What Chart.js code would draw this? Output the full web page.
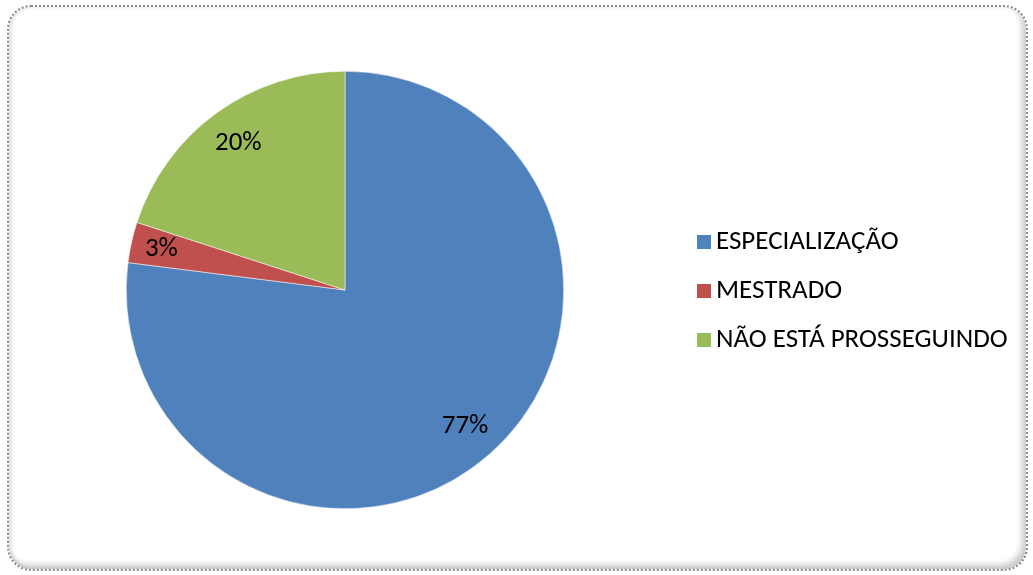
<!DOCTYPE html>
<html>
<head>
<meta charset="utf-8">
<script src="https://cdn.jsdelivr.net/npm/chart.js@4.4.1/dist/chart.umd.min.js"></script>
<style>
  html, body { margin: 0; padding: 0; background: #fff; }
  body { width: 1033px; height: 575px; position: relative; overflow: hidden; font-family: Carlito, Calibri, 'Liberation Sans', sans-serif; }
  .frame {
    position: absolute; left: 7px; top: 5px; width: 1017px; height: 562px;
    border: 2px dotted #8a8a8a; border-radius: 24px;
    box-shadow: inset -4px -4px 6px rgba(0,0,0,0.22), inset 3px 0 3px rgba(0,0,0,0.10);
  }
  #pie { position: absolute; left: 0; top: 0; }
  .legend { position: absolute; left: 697px; top: 225px; list-style: none; margin: 0; padding: 0; }
  .legend li { height: 49px; line-height: 30px; font-size: 27px; color: #000; white-space: nowrap; }
  .legend span { display: inline-block; width: 14px; height: 14px; margin-right: 5px; vertical-align: 0px; }
</style>
</head>
<body>
<div class="frame"></div>
<canvas id="pie" width="1033" height="575"></canvas>
<ul class="legend" id="legend"></ul>
<script>
const categories = ["ESPECIALIZAÇÃO", "MESTRADO", "NÃO ESTÁ PROSSEGUINDO"];
const percentages = [77, 3, 20];
const sliceColors = ["#4F81BD", "#C0504D", "#9BBB59"];

const labelFont = '27px Carlito, Calibri, "Liberation Sans", sans-serif';

// percentage labels placed inside each slice, near the outer edge
const sliceLabels = {
  id: 'sliceLabels',
  afterDatasetsDraw(chart) {
    const ctx = chart.ctx;
    const meta = chart.getDatasetMeta(0);
    ctx.save();
    ctx.font = labelFont;
    ctx.fillStyle = '#000';
    ctx.textAlign = 'center';
    ctx.textBaseline = 'middle';
    meta.data.forEach((arc, i) => {
      const mid = (arc.startAngle + arc.endAngle) / 2;
      const r = arc.outerRadius * (percentages[i] < 5 ? 0.86 : 0.83);
      ctx.fillText(percentages[i] + '%', arc.x + Math.cos(mid) * r, arc.y + Math.sin(mid) * r);
    });
    ctx.restore();
  }
};

function drawChart() {
  new Chart(document.getElementById('pie').getContext('2d'), {
    type: 'pie',
    data: {
      labels: categories,
      datasets: [{
        data: percentages,
        backgroundColor: sliceColors,
        borderColor: '#ffffff',
        borderWidth: 0.5
      }]
    },
    options: {
      responsive: false,
      animation: false,
      layout: { padding: { left: 126, right: 1033 - 564, top: 71, bottom: 575 - 509 } },
      plugins: {
        legend: { display: false },
        tooltip: { enabled: false }
      }
    },
    plugins: [sliceLabels]
  });
}

const legendEl = document.getElementById('legend');
categories.forEach((name, i) => {
  const li = document.createElement('li');
  li.innerHTML = '<span style="background:' + sliceColors[i] + '"></span>' + name;
  legendEl.appendChild(li);
});

document.fonts.load(labelFont).then(drawChart, drawChart);
</script>
</body>
</html>
